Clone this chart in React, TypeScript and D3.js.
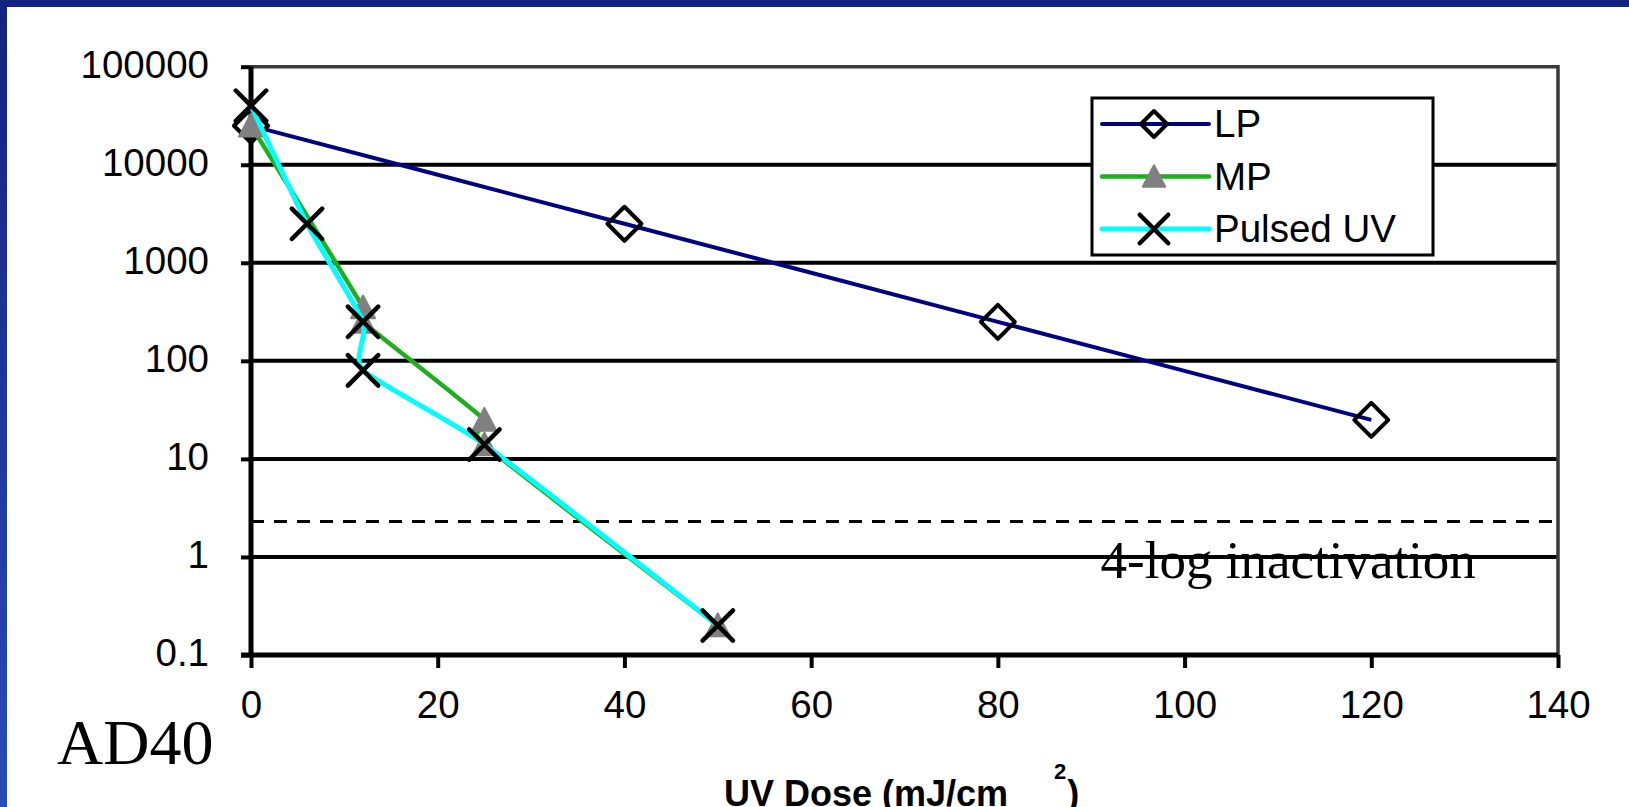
import React from 'react';
import * as d3 from 'd3';

const useD3 = (renderChart: any, dependencies: any[]) => {
  const ref = React.useRef<SVGSVGElement>(null);

  React.useEffect(() => {
    renderChart(d3.select(ref.current));
  }, dependencies);

  return ref;
};

// UV dose (mJ/cm2) vs surviving count
const lpDose = [0, 40, 80, 120];
const lpCount = [25000, 2500, 250, 25];
const mpDose = [0, 12, 12, 25, 25, 50];
const mpCount = [25000, 350, 250, 25, 14, 0.2];
const pulsedDose = [0, 6, 12, 12, 25, 50];
const pulsedCount = [40000, 2500, 250, 80, 14, 0.2];

const seriesNames = ['LP', 'MP', 'Pulsed UV'];
const xTicks = [0, 20, 40, 60, 80, 100, 120, 140];
const yTicks = [0.1, 1, 10, 100, 1000, 10000, 100000];
const inactivationLevel = 2.3;

const W = 1629;
const H = 807;
const sans = 'Arial, "Liberation Sans", Helvetica, sans-serif';
const serif = '"Times New Roman", "Liberation Serif", serif';

const series = [
  { name: seriesNames[0], color: '#000080', width: 4, marker: 'diamond', pts: lpDose.map((x, i) => [x, lpCount[i]]) },
  { name: seriesNames[1], color: '#1fae1f', width: 4.5, marker: 'triangle', pts: mpDose.map((x, i) => [x, mpCount[i]]) },
  { name: seriesNames[2], color: '#00ffff', width: 5, marker: 'cross', pts: pulsedDose.map((x, i) => [x, pulsedCount[i]]) },
];

const drawMarker = (g: any, type: string, cx: number, cy: number, s: number) => {
  if (type === 'diamond') {
    g.append('path')
      .attr('d', `M${cx},${cy - s}L${cx + s},${cy}L${cx},${cy + s}L${cx - s},${cy}Z`)
      .attr('fill', 'none').attr('stroke', 'black').attr('stroke-width', 4)
      .attr('stroke-linejoin', 'round');
  } else if (type === 'triangle') {
    const w = s * 0.75;
    g.append('path')
      .attr('d', `M${cx},${cy - w}L${cx + w},${cy + w * 0.9}L${cx - w},${cy + w * 0.9}Z`)
      .attr('fill', '#808080').attr('stroke', '#808080').attr('stroke-width', 2)
      .attr('stroke-linejoin', 'round');
  } else {
    const h = s * 0.95;
    g.append('path')
      .attr('d', `M${cx - h},${cy - h}L${cx + h},${cy + h}M${cx + h},${cy - h}L${cx - h},${cy + h}`)
      .attr('stroke', 'black').attr('stroke-width', 4.5).attr('stroke-linecap', 'round');
  }
};

const renderChart = (svg: any) => {
  svg.selectAll('*').remove();
  const margin = { top: 66.7, right: 71, bottom: 152, left: 251 };

  const x = d3.scaleLinear().domain([0, 140]).range([margin.left, W - margin.right]);
  const y = d3.scaleLog().domain([0.1, 100000]).range([H - margin.bottom, margin.top]);
  const [x0, x1] = x.range();
  const [y0, y1] = y.range();

  // slide frame
  const defs = svg.append('defs');
  const grad = defs.append('linearGradient').attr('id', 'frame').attr('x1', 0).attr('y1', 0).attr('x2', 0).attr('y2', 1);
  grad.append('stop').attr('offset', '0%').attr('stop-color', '#13237f');
  grad.append('stop').attr('offset', '100%').attr('stop-color', '#2a4bb8');
  svg.append('rect').attr('width', W).attr('height', H).attr('fill', 'white');
  svg.append('rect').attr('width', 7).attr('height', H).attr('fill', 'url(#frame)');
  svg.append('rect').attr('width', W).attr('height', 7).attr('fill', '#13237f');

  // gridlines
  svg.append('g').selectAll('line')
    .data(yTicks.slice(1, -1))
    .join('line')
    .attr('x1', x0).attr('x2', x1)
    .attr('y1', (d: number) => y(d)).attr('y2', (d: number) => y(d))
    .attr('stroke', 'black').attr('stroke-width', 4);

  // plot border top/right
  svg.append('path')
    .attr('d', `M${x0},${y1}H${x1}V${y0}`)
    .attr('fill', 'none').attr('stroke', '#3a3a3a').attr('stroke-width', 3.5);

  // axes
  const yAxis = svg.append('g')
    .attr('transform', `translate(${x0},0)`)
    .call(d3.axisLeft(y).tickValues(yTicks).tickFormat((d: any) => String(d)).tickSize(10).tickPadding(32));
  const xAxis = svg.append('g')
    .attr('transform', `translate(0,${y0})`)
    .call(d3.axisBottom(x).tickValues(xTicks).tickFormat((d: any) => String(d)).tickSize(13).tickPadding(23));
  [yAxis, xAxis].forEach((a: any) => {
    a.select('.domain').remove();
    a.selectAll('.tick line').attr('stroke', 'black').attr('stroke-width', 4);
    a.selectAll('.tick text')
      .attr('fill', 'black')
      .attr('font-family', sans)
      .attr('font-size', 38.5);
  });
  yAxis.selectAll('.tick text').attr('dy', '0.27em');
  xAxis.selectAll('.tick text').attr('dy', '0.71em');

  svg.append('line').attr('x1', x0).attr('x2', x0).attr('y1', y1).attr('y2', y0 + 2)
    .attr('stroke', 'black').attr('stroke-width', 5);
  svg.append('line').attr('x1', x0 - 10).attr('x2', x1).attr('y1', y0).attr('y2', y0)
    .attr('stroke', 'black').attr('stroke-width', 5);

  // 4-log inactivation
  svg.append('line')
    .attr('x1', x0).attr('x2', x1)
    .attr('y1', y(inactivationLevel)).attr('y2', y(inactivationLevel))
    .attr('stroke', 'black').attr('stroke-width', 3).attr('stroke-dasharray', '13,10');
  svg.append('text')
    .attr('x', x(91)).attr('y', y(1) + 21)
    .attr('font-family', serif).attr('font-size', 53)
    .text('4-log inactivation');

  // series
  const line = d3.line()
    .x((d: any) => x(d[0]))
    .y((d: any) => y(d[1]))
    .curve(d3.curveCardinal.tension(0.45));
  series.forEach((s) => {
    const g = svg.append('g');
    g.append('path')
      .attr('d', line(s.pts as any))
      .attr('fill', 'none').attr('stroke', s.color).attr('stroke-width', s.width)
      .attr('stroke-linejoin', 'round');
    s.pts.forEach((p) => drawMarker(g, s.marker, x(p[0]), y(p[1]), s.marker === 'diamond' ? 17 : 16));
  });

  // legend
  const lg = svg.append('g').attr('transform', 'translate(1092,98)');
  lg.append('rect').attr('width', 341).attr('height', 157)
    .attr('fill', 'white').attr('stroke', 'black').attr('stroke-width', 3);
  series.forEach((s, i) => {
    const ly = 26 + i * 52.5;
    lg.append('line').attr('x1', 10).attr('x2', 117).attr('y1', ly).attr('y2', ly)
      .attr('stroke', s.color).attr('stroke-width', s.width).attr('stroke-linecap', 'round');
    drawMarker(lg, s.marker, 62, ly, s.marker === 'diamond' ? 13 : 15);
    lg.append('text').attr('x', 122).attr('y', ly + 13)
      .attr('font-family', sans).attr('font-size', 38.5)
      .text(s.name);
  });

  // labels
  const title = svg.append('text')
    .attr('x', 724).attr('y', 806)
    .attr('font-family', sans).attr('font-weight', 'bold').attr('font-size', 36);
  title.append('tspan').text('UV Dose (mJ/cm');
  title.append('tspan').attr('dx', 46).attr('dy', -27).attr('font-size', 22).text('2');
  title.append('tspan').attr('dx', 1).attr('dy', 27).text(')');

  svg.append('text')
    .attr('x', 57).attr('y', 764)
    .attr('font-family', serif).attr('font-size', 64)
    .text('AD40');
};

const App: React.FC = () => {
  const ref = useD3(renderChart, []);
  return (
    <svg
      ref={ref}
      width={W}
      height={H}
      style={{ position: 'absolute', top: 0, left: 0, display: 'block' }}
    />
  );
};

export default App;
